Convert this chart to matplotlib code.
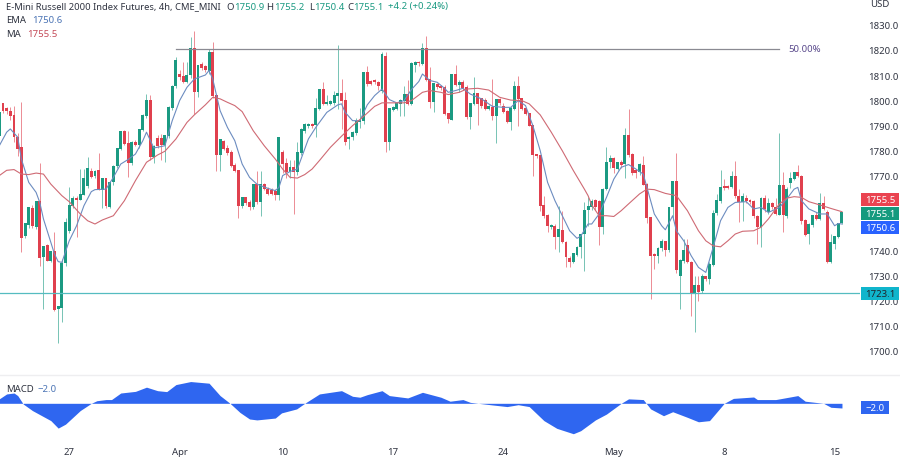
import numpy as np
import matplotlib
matplotlib.use('Agg')
from matplotlib import pyplot as plt
from matplotlib.lines import Line2D
from matplotlib.patches import Rectangle

plt.rcParams['font.family'] = ['Noto Sans', 'DejaVu Sans']

W, H = 900, 460

# OHLC (4h bars)
opens = [
    1785.8, 1798.7, 1796.5, 1795.5, 1793.8, 1785.2, 1781.2, 1745.7, 1750.3, 1756.6,
    1749.3, 1759.5, 1737.3, 1741.9, 1736.0, 1739.7, 1716.7, 1717.3, 1735.0, 1747.9,
    1757.6, 1760.6, 1760.3, 1762.3, 1765.9, 1771.6, 1769.6, 1771.9, 1764.1, 1768.5,
    1757.2, 1767.2, 1773.6, 1780.5, 1787.6, 1782.8, 1774.9, 1783.2, 1782.2, 1788.1,
    1793.5, 1799.8, 1777.4, 1784.5, 1784.5, 1782.1, 1785.8, 1796.9, 1805.5, 1810.0,
    1809.2, 1807.4, 1810.0, 1820.7, 1803.4, 1814.0, 1813.4, 1811.4, 1819.1, 1801.8,
    1778.2, 1783.4, 1780.8, 1778.9, 1773.9, 1771.9, 1757.6, 1761.2, 1759.0, 1757.2,
    1766.1, 1759.2, 1766.1, 1764.5, 1763.9, 1763.5, 1762.2, 1778.9, 1774.5, 1771.2,
    1772.9, 1771.5, 1778.8, 1787.8, 1789.5, 1790.2, 1790.1, 1796.5, 1804.0, 1798.3,
    1798.3, 1798.9, 1801.8, 1802.4, 1799.7, 1784.5, 1785.2, 1786.9, 1791.1, 1791.8,
    1811.1, 1807.4, 1807.8, 1806.8, 1803.8, 1817.5, 1783.2, 1796.1, 1796.5, 1798.5,
    1799.8, 1802.0, 1798.5, 1814.0, 1815.1, 1814.4, 1820.4, 1808.0, 1799.4, 1806.2,
    1805.5, 1805.1, 1794.5, 1792.2, 1810.0, 1806.2, 1807.1, 1805.1, 1793.1, 1798.5,
    1802.4, 1800.5, 1799.8, 1796.5, 1797.1, 1793.8, 1800.2, 1797.5, 1795.4, 1791.1,
    1796.5, 1805.5, 1800.5, 1796.5, 1794.5, 1789.8, 1778.2, 1777.8, 1757.9, 1753.9,
    1749.3, 1749.7, 1745.3, 1747.9, 1743.3, 1736.6, 1735.6, 1738.4, 1741.3, 1746.6,
    1756.3, 1757.2, 1759.9, 1759.5, 1749.3, 1764.5, 1775.2, 1776.5, 1772.5, 1774.9,
    1774.5, 1785.8, 1778.2, 1771.9, 1771.2, 1773.9, 1766.3, 1753.0, 1738.4, 1737.7,
    1740.9, 1743.5, 1740.3, 1757.2, 1767.5, 1730.0, 1735.7, 1741.9, 1735.3, 1722.7,
    1726.2, 1723.7, 1729.6, 1728.5, 1734.4, 1754.9, 1759.9, 1765.6, 1765.4, 1765.2,
    1769.5, 1761.6, 1759.2, 1760.9, 1759.9, 1759.5, 1753.7, 1749.3, 1760.6, 1755.2,
    1758.8, 1757.2, 1754.3, 1766.0, 1753.9, 1767.1, 1768.5, 1770.9, 1769.6, 1751.9,
    1746.6, 1750.2, 1753.9, 1752.6, 1758.6, 1755.0, 1735.3, 1742.6, 1745.5, 1750.9,
]
highs = [
    1796.0, 1799.0, 1797.1, 1797.1, 1797.8, 1787.0, 1799.1, 1751.0, 1757.5, 1758.0,
    1759.9, 1774.9, 1741.9, 1742.5, 1739.7, 1747.3, 1717.7, 1736.6, 1753.0, 1765.2,
    1761.9, 1761.9, 1772.5, 1772.5, 1777.2, 1773.0, 1772.0, 1778.9, 1769.0, 1769.0,
    1767.5, 1774.0, 1781.0, 1787.6, 1788.0, 1787.5, 1783.6, 1784.0, 1788.1, 1794.5,
    1802.4, 1802.0, 1782.0, 1786.0, 1786.5, 1786.0, 1797.5, 1806.0, 1817.1, 1812.0,
    1815.0, 1815.0, 1825.1, 1827.4, 1814.0, 1815.0, 1814.0, 1820.4, 1823.1, 1802.0,
    1784.5, 1784.0, 1782.0, 1780.0, 1775.0, 1772.0, 1761.2, 1761.5, 1760.0, 1766.1,
    1771.9, 1771.9, 1767.0, 1765.5, 1765.0, 1764.5, 1785.2, 1780.0, 1777.0, 1776.0,
    1776.0, 1783.2, 1789.0, 1791.0, 1790.8, 1791.0, 1800.9, 1804.5, 1807.1, 1802.0,
    1800.0, 1803.8, 1822.0, 1808.4, 1803.1, 1785.5, 1787.5, 1793.0, 1796.9, 1811.1,
    1813.5, 1808.0, 1808.3, 1807.5, 1819.1, 1819.1, 1796.5, 1797.5, 1799.0, 1800.5,
    1805.8, 1808.0, 1815.0, 1815.5, 1815.5, 1822.8, 1825.5, 1813.1, 1806.5, 1807.0,
    1806.0, 1806.0, 1795.0, 1810.0, 1814.0, 1808.0, 1808.0, 1806.0, 1798.5, 1809.4,
    1803.0, 1801.0, 1801.0, 1798.0, 1808.5, 1800.2, 1801.0, 1799.0, 1796.0, 1797.5,
    1807.8, 1809.8, 1801.0, 1797.0, 1795.0, 1790.0, 1778.5, 1778.0, 1761.6, 1754.5,
    1750.5, 1750.5, 1757.9, 1755.9, 1744.0, 1738.0, 1739.0, 1742.0, 1746.5, 1759.2,
    1761.2, 1760.5, 1760.5, 1760.0, 1765.0, 1781.2, 1778.0, 1777.5, 1775.5, 1776.0,
    1788.7, 1796.5, 1779.0, 1772.5, 1775.0, 1777.8, 1767.0, 1753.5, 1739.0, 1741.5,
    1744.5, 1744.0, 1757.5, 1767.5, 1778.8, 1736.5, 1744.6, 1744.6, 1736.0, 1730.0,
    1730.0, 1730.5, 1730.0, 1735.5, 1756.0, 1762.6, 1772.1, 1768.4, 1766.0, 1771.9,
    1775.8, 1764.5, 1763.0, 1762.0, 1760.5, 1760.0, 1754.0, 1761.5, 1762.0, 1761.0,
    1759.5, 1761.0, 1786.8, 1771.2, 1765.5, 1771.5, 1771.5, 1774.1, 1770.0, 1752.5,
    1751.0, 1754.0, 1755.5, 1762.8, 1761.9, 1756.0, 1746.5, 1745.6, 1751.0, 1755.2,
]
lows = [
    1784.0, 1795.0, 1794.5, 1792.0, 1783.4, 1777.8, 1739.3, 1745.0, 1749.0, 1749.0,
    1748.5, 1734.0, 1716.7, 1736.0, 1735.5, 1716.0, 1703.0, 1711.4, 1734.0, 1747.0,
    1757.0, 1745.3, 1760.0, 1762.0, 1765.0, 1769.0, 1769.0, 1764.0, 1757.0, 1757.0,
    1757.0, 1766.0, 1773.0, 1780.0, 1782.0, 1769.5, 1774.0, 1781.5, 1781.0, 1787.5,
    1793.0, 1776.0, 1775.0, 1781.0, 1776.0, 1775.5, 1785.0, 1796.0, 1805.0, 1808.0,
    1807.0, 1807.0, 1809.0, 1794.5, 1801.1, 1812.0, 1811.0, 1810.5, 1801.0, 1771.9,
    1771.9, 1780.0, 1778.0, 1773.5, 1771.5, 1752.8, 1757.0, 1758.0, 1756.0, 1756.5,
    1758.5, 1753.9, 1764.0, 1762.0, 1762.0, 1760.0, 1760.0, 1771.0, 1769.0, 1769.0,
    1754.6, 1770.0, 1778.0, 1787.0, 1789.0, 1789.0, 1785.2, 1796.0, 1798.0, 1798.0,
    1798.0, 1798.0, 1796.5, 1788.5, 1782.0, 1780.5, 1784.0, 1786.0, 1789.0, 1790.5,
    1805.5, 1806.0, 1806.5, 1804.0, 1803.0, 1779.2, 1780.2, 1795.5, 1796.0, 1793.5,
    1793.5, 1798.0, 1798.0, 1811.0, 1813.5, 1814.0, 1807.5, 1796.9, 1795.1, 1804.5,
    1804.0, 1794.0, 1790.9, 1792.0, 1805.5, 1803.1, 1804.0, 1792.5, 1788.5, 1798.0,
    1790.0, 1797.0, 1796.0, 1796.0, 1792.0, 1782.9, 1798.0, 1795.0, 1791.0, 1788.2,
    1796.0, 1789.8, 1796.0, 1794.0, 1789.5, 1769.9, 1777.0, 1755.9, 1753.0, 1747.3,
    1748.5, 1740.6, 1739.3, 1743.0, 1733.3, 1733.5, 1735.0, 1738.0, 1737.0, 1732.0,
    1750.0, 1756.0, 1756.0, 1742.3, 1746.6, 1764.0, 1773.0, 1771.0, 1772.0, 1773.0,
    1768.8, 1777.5, 1770.0, 1769.0, 1770.0, 1766.0, 1751.0, 1720.7, 1732.6, 1735.0,
    1740.0, 1738.0, 1739.5, 1752.0, 1731.0, 1716.7, 1735.0, 1735.0, 1714.0, 1707.6,
    1720.0, 1723.0, 1728.0, 1726.5, 1734.0, 1754.0, 1759.0, 1764.0, 1764.5, 1765.0,
    1761.0, 1751.5, 1751.9, 1759.0, 1758.5, 1753.0, 1742.6, 1741.5, 1755.5, 1754.5,
    1756.5, 1754.0, 1754.0, 1747.3, 1753.0, 1765.0, 1768.0, 1769.5, 1750.5, 1746.0,
    1742.5, 1749.5, 1752.0, 1752.0, 1756.0, 1735.0, 1735.0, 1740.5, 1745.0, 1750.4,
]
closes = [
    1795.1, 1795.8, 1795.5, 1793.8, 1785.2, 1780.5, 1745.0, 1750.6, 1757.0, 1749.9,
    1759.5, 1737.0, 1741.7, 1736.0, 1739.7, 1716.4, 1717.7, 1735.0, 1751.0, 1757.9,
    1760.6, 1760.0, 1762.3, 1768.5, 1772.5, 1769.5, 1771.6, 1764.3, 1768.5, 1757.6,
    1767.2, 1773.6, 1780.5, 1787.6, 1782.5, 1774.9, 1783.2, 1782.1, 1788.1, 1793.8,
    1799.8, 1777.4, 1781.6, 1781.8, 1782.1, 1785.8, 1796.9, 1805.5, 1815.7, 1809.1,
    1807.1, 1809.8, 1820.7, 1803.4, 1813.8, 1812.8, 1811.8, 1819.1, 1801.5, 1778.1,
    1784.2, 1780.5, 1778.9, 1773.9, 1771.9, 1757.6, 1761.2, 1759.0, 1757.2, 1766.1,
    1759.2, 1766.1, 1764.5, 1762.6, 1762.6, 1762.2, 1785.2, 1774.5, 1771.2, 1772.9,
    1771.2, 1778.9, 1788.1, 1790.2, 1790.2, 1789.8, 1796.5, 1804.0, 1798.5, 1798.9,
    1799.4, 1801.8, 1802.4, 1799.7, 1783.2, 1785.2, 1787.2, 1791.4, 1791.8, 1811.1,
    1806.4, 1806.4, 1807.1, 1805.8, 1818.0, 1783.2, 1796.5, 1796.9, 1798.5, 1799.8,
    1802.0, 1798.5, 1814.4, 1815.1, 1814.7, 1820.4, 1808.0, 1799.4, 1806.4, 1805.1,
    1804.8, 1794.5, 1792.5, 1810.0, 1806.2, 1807.1, 1804.7, 1793.1, 1798.5, 1802.4,
    1798.5, 1797.8, 1796.5, 1797.4, 1793.5, 1800.2, 1798.9, 1795.4, 1791.4, 1796.7,
    1805.5, 1800.5, 1796.5, 1794.5, 1789.8, 1778.1, 1777.8, 1757.9, 1753.6, 1749.7,
    1750.0, 1745.3, 1748.2, 1743.3, 1737.3, 1735.6, 1738.6, 1741.3, 1746.3, 1755.9,
    1757.5, 1759.5, 1757.2, 1749.5, 1764.5, 1775.2, 1776.8, 1772.8, 1774.9, 1774.1,
    1785.8, 1778.2, 1770.9, 1770.9, 1774.1, 1766.3, 1753.0, 1738.0, 1737.7, 1740.9,
    1743.7, 1740.3, 1757.2, 1767.5, 1732.2, 1736.0, 1739.9, 1735.3, 1722.7, 1726.0,
    1723.3, 1729.6, 1728.5, 1734.4, 1754.9, 1759.9, 1765.2, 1764.9, 1764.9, 1769.5,
    1761.6, 1759.2, 1761.6, 1759.9, 1759.2, 1753.7, 1749.3, 1760.6, 1756.6, 1758.8,
    1757.2, 1754.6, 1766.0, 1754.2, 1764.5, 1768.5, 1770.9, 1769.9, 1751.9, 1746.2,
    1750.2, 1753.9, 1752.6, 1758.6, 1756.6, 1735.3, 1743.0, 1745.5, 1750.8, 1755.1,
]

# EMA, read at these bars
ema_bars = [
    0, 2, 3, 5, 6, 8, 10, 11, 12, 14, 15, 16, 17, 19, 21, 23, 25, 26, 29, 31, 33, 35, 37,
    39, 40, 42, 45, 47, 49, 51, 53, 56, 57, 58, 60, 62, 64, 66, 68, 70, 73, 75, 76, 77,
    79, 81, 84, 86, 89, 92, 93, 94, 96, 98, 100, 102, 104, 106, 108, 110, 112, 114, 115,
    117, 119, 121, 122, 124, 126, 128, 131, 134, 137, 139, 141, 143, 145, 147, 149, 151,
    153, 155, 157, 158, 160, 161, 163, 165, 167, 169, 171, 173, 175, 176, 178, 180, 181,
    183, 184, 186, 188, 190, 192, 194, 196, 198, 200, 203, 205, 207, 209, 212, 214, 216,
    217, 218, 220, 223, 225, 227, 228, 229,
]
ema_vals = [
    1781.8, 1787.2, 1788.5, 1785.2, 1776.5, 1767.2, 1763.2, 1759.2, 1752.6, 1743.3, 1738.6,
    1735.6, 1735.3, 1743.9, 1749.9, 1757.9, 1763.5, 1764.3, 1764.5, 1769.2, 1774.5, 1776.3,
    1778.5, 1783.8, 1787.2, 1780.9, 1781.8, 1791.8, 1799.8, 1805.1, 1808.4, 1810.0, 1811.8,
    1808.4, 1795.8, 1789.1, 1783.8, 1774.5, 1769.2, 1766.5, 1764.8, 1763.9, 1765.2, 1769.9,
    1771.5, 1772.5, 1784.5, 1789.1, 1795.1, 1798.1, 1798.5, 1795.1, 1791.8, 1791.8, 1798.1,
    1801.8, 1804.4, 1800.2, 1798.9, 1799.8, 1804.2, 1807.4, 1810.4, 1807.8, 1807.1, 1804.7,
    1803.1, 1803.8, 1804.7, 1802.4, 1800.5, 1797.5, 1797.1, 1797.1, 1799.8, 1797.8, 1789.8,
    1779.8, 1767.2, 1759.9, 1753.9, 1747.9, 1744.9, 1745.7, 1750.6, 1750.6, 1754.6, 1761.2,
    1768.5, 1773.2, 1774.3, 1772.5, 1770.5, 1765.2, 1754.6, 1749.9, 1748.3, 1753.9, 1747.9,
    1743.9, 1738.0, 1733.3, 1731.3, 1741.3, 1751.9, 1757.2, 1759.2, 1759.5, 1756.6, 1757.2,
    1755.2, 1757.2, 1760.6, 1764.5, 1765.2, 1759.9, 1756.6, 1754.6, 1754.6, 1749.9, 1750.8,
    1750.6,
]

# MA, read at these bars
ma_bars = [
    0, 2, 4, 6, 8, 10, 12, 14, 17, 19, 22, 24, 26, 28, 31, 34, 37, 40, 43, 45, 48, 51, 53,
    56, 58, 60, 62, 64, 66, 69, 72, 75, 77, 79, 81, 83, 85, 87, 90, 93, 96, 99, 102, 104,
    107, 110, 112, 115, 117, 120, 122, 125, 127, 130, 133, 136, 139, 142, 144, 147, 150,
    153, 156, 159, 160, 161, 163, 165, 167, 169, 171, 174, 176, 178, 181, 184, 187, 190,
    192, 194, 196, 198, 200, 202, 205, 207, 209, 212, 214, 216, 218, 220, 223, 226, 229,
]
ma_vals = [
    1769.9, 1772.0, 1772.3, 1770.5, 1770.3, 1770.9, 1770.5, 1766.5, 1761.9, 1759.5, 1754.6,
    1751.9, 1750.6, 1752.2, 1753.9, 1759.9, 1767.9, 1775.2, 1778.1, 1779.6, 1784.5, 1791.1,
    1794.1, 1798.1, 1801.1, 1800.5, 1799.1, 1797.8, 1795.4, 1787.8, 1781.8, 1776.5, 1772.5,
    1769.2, 1768.9, 1770.3, 1772.5, 1775.9, 1781.2, 1785.6, 1789.8, 1793.5, 1797.5, 1798.9,
    1798.9, 1798.9, 1799.8, 1803.1, 1803.8, 1803.1, 1802.2, 1803.1, 1804.4, 1804.7, 1804.0,
    1801.1, 1800.0, 1799.8, 1798.5, 1794.1, 1787.2, 1779.8, 1771.9, 1764.5, 1761.9, 1758.2,
    1753.9, 1753.9, 1753.6, 1755.9, 1758.6, 1762.6, 1764.5, 1764.3, 1762.8, 1761.9, 1755.9,
    1747.9, 1743.9, 1741.9, 1741.5, 1743.9, 1746.6, 1747.7, 1747.9, 1749.3, 1752.6, 1758.6,
    1760.9, 1761.5, 1761.2, 1759.5, 1758.2, 1756.8, 1755.5,
]

# MACD pane
macd_bars = [
    0, 2, 4, 5, 6.5, 9, 14, 16, 18, 22, 25, 26.5, 29, 30.5, 33, 37, 40, 43, 45.5, 48, 52,
    57, 60, 62.7, 65.4, 68, 70, 75, 76.7, 80.8, 83, 87, 93, 96, 98, 100, 104, 106, 111,
    115, 120, 122.5, 126, 128, 134, 138, 141, 144, 148, 151.5, 156, 158, 162, 165, 169,
    171, 175, 177, 180.5, 183, 187, 190, 193, 197, 199.5, 205, 206, 211, 217, 219, 224,
    226, 229,
]
macd_vals = [
    1.9, 4.0, 4.4, 3.3, -0.3, -3.1, -7.4, -10.6, -8.9, -3.1, 0.0, 1.1, 1.6, 1.6, 4.4, 5.1,
    6.9, 5.4, 5.0, 8.0, 9.3, 8.6, 3.3, 0.0, -3.9, -6.7, -7.1, -6.3, -4.1, -2.4, 0.0, 4.0,
    5.4, 3.0, 2.6, 3.7, 5.4, 3.3, 2.3, 4.7, 2.6, 0.9, 1.6, 0.4, -0.7, -1.4, -0.6, -1.4,
    -7.4, -10.7, -13.0, -11.7, -7.1, -4.6, 0.0, 1.9, 1.6, -2.4, -5.3, -3.6, -6.0, -7.9,
    -7.4, 0.0, 2.1, 2.7, 1.6, 1.6, 3.3, 0.9, 0.0, -1.7, -2.0,
]

# 1760 and 1750 sit behind the price badges in the picture, so they are not shown
price_ticks = [1830, 1820, 1810, 1800, 1790, 1780, 1770, 1740, 1730, 1720, 1710, 1700]
date_bars = [19, 49, 77, 107, 137, 167, 197, 227]
date_labels = ['27', 'Apr', '10', '17', '24', 'May', '8', '15']
fib_level = 1820.2
fib_start, fib_end = 48, 212
support_level = 1723.0

GREEN = '#1b9a82'
RED = '#e0404e'
TXT = '#2f3340'

opens = np.array(opens)
closes = np.array(closes)
highs = np.array(highs)
lows = np.array(lows)
bars = np.arange(len(opens))
colors = np.where(closes >= opens, GREEN, RED)


def px_axes(fig, left, top, right, bottom):
    return fig.add_axes([left / W, 1 - bottom / H, (right - left) / W, (bottom - top) / H])


def label(x, y, s, color=TXT, size=6.9, **kw):
    fig.text(x / W, 1 - y / H, s, color=color, fontsize=size, va='center', **kw)


def badge(top, bottom, left, right, s, bg, color='white'):
    fig.add_artist(Rectangle((left / W, 1 - bottom / H), (right - left) / W, (bottom - top) / H,
                             transform=fig.transFigure, fc=bg, ec='none', zorder=5))
    fig.text(right / W - 4 / W, 1 - (top + bottom) / 2 / H, s, color=color, fontsize=6.9,
             ha='right', va='center', zorder=6)


fig = plt.figure(figsize=(W / 100, H / 100), dpi=100)

# price pane
ax = px_axes(fig, 0, 0, 860, 376)
ax.set_xlim(0.19, 233.9)
ax.set_ylim(1690.4, 1840.3)
ax.vlines(bars, lows, highs, colors=colors, lw=0.7, alpha=0.6, zorder=2)
ax.bar(bars, np.abs(closes - opens) + 0.25, bottom=np.minimum(opens, closes), width=0.8,
       color=colors, zorder=3)
ax.plot(ema_bars, ema_vals, color='#6c8cc0', lw=0.8, zorder=4)
ax.plot(ma_bars, ma_vals, color='#cf6a74', lw=0.8, zorder=4)
ax.axhline(support_level, color='#55bcc0', lw=0.9, zorder=4)
ax.plot([fib_start, fib_end], [fib_level, fib_level], color='#8a8a92', lw=0.9, zorder=4)
ax.text(fib_end + 2.4, fib_level + 0.4, '50.00%', color='#5a4a8c', fontsize=6.9, va='center')
ax.yaxis.tick_right()
ax.set_yticks(price_ticks)
ax.set_yticklabels(['%.1f' % p for p in price_ticks], color=TXT, fontsize=6.9)
ax.tick_params(axis='y', length=0, pad=5.5)
ax.set_xticks([])
for s in ax.spines.values():
    s.set_visible(False)

# MACD pane
ax2 = px_axes(fig, 0, 376, 860, 438)
ax2.set_xlim(0.19, 233.9)
ax2.set_ylim(-14.4, 12.1)
ax2.fill_between(macd_bars, macd_vals, 0, color='#2f66f0', lw=0)
ax2.set_yticks([])
ax2.set_xticks(date_bars)
ax2.set_xticklabels(date_labels, color=TXT, fontsize=6.9)
for t in ax2.get_xticklabels():
    if t.get_text() in ('Apr', 'May'):
        t.set_fontweight('bold')
ax2.tick_params(axis='x', length=0, pad=7.5)
for s in ax2.spines.values():
    s.set_visible(False)

# pane separator runs the whole width
fig.add_artist(Line2D([0, 1], [1 - 376 / H, 1 - 376 / H], transform=fig.transFigure,
                      color='#eeeef0', lw=1.0))

# legend rows
label(6.5, 7, 'E-Mini Russell 2000 Index Futures, 4h, CME_MINI', size=6.75)
for x, s, c in [(226.5, 'O', TXT), (234, '1750.9', GREEN), (266.5, 'H', TXT), (274, '1755.2', GREEN),
                (309, 'L', TXT), (314.5, '1750.4', GREEN), (347.5, 'C', TXT), (353.5, '1755.1', GREEN),
                (388, '+4.2 (+0.24%)', GREEN)]:
    label(x, 7, s, color=c)
label(6.5, 20.5, 'EMA')
label(32, 20.5, '1750.6', color='#4b74b5')
label(6.5, 34.5, 'MA')
label(27, 34.5, '1755.5', color='#c44a58')
label(6.5, 389.5, 'MACD')
label(38, 389.5, '\u22122.0', color='#4b74b5')
label(870, 4.5, 'USD')

# price badges on the right
badge(194, 207, 861, 899, '1755.5', '#ea4350')
badge(208, 221, 861, 899, '1755.1', '#159a7e')
badge(222, 235, 861, 899, '1750.6', '#2962ff')
badge(288, 301, 861, 899, '1723.1', '#10b5cc', color='#20242c')
badge(402, 415, 861, 889, '\u22122.0', '#2f66f0')

fig.savefig('out.png', dpi=100)
